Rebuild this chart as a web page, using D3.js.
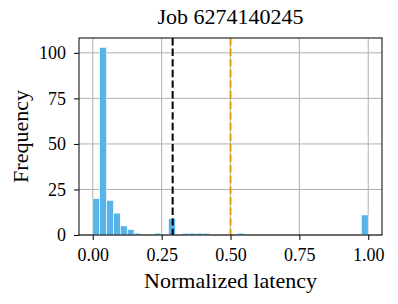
<!DOCTYPE html>
<html>
<head>
<meta charset="utf-8">
<script src="https://cdn.jsdelivr.net/npm/d3@7"></script>
<style>
  html, body { margin: 0; padding: 0; background: #fff; }
</style>
</head>
<body>
<div id="chart"></div>
<script>
// histogram counts, 40 bins of width 0.025 over [0, 1]
const binCounts = [20, 103, 19, 12, 5, 3, 1, 0, 0, 1,
                   0, 9, 0, 1, 1, 1, 1, 0, 0, 0,
                   0, 1, 0, 0, 0, 0, 0, 0, 0, 0,
                   0, 0, 0, 0, 0, 0, 0, 0, 0, 11];
const binWidth = 0.025;
const xTicks = [0, 0.25, 0.5, 0.75, 1.0];
const yTicks = [0, 25, 50, 75, 100];
const meanLine = 0.29;     // black dashed
const thresholdLine = 0.5; // orange dashed
const title = "Job 6274140245";

const FONT = '"Liberation Serif"';

const width = 398, height = 304;
const margin = { top: 38, right: 16, bottom: 69, left: 79 };

const svg = d3.select("#chart").append("svg")
    .attr("width", width)
    .attr("height", height);

const x = d3.scaleLinear()
    .domain([-0.05, 1.05])
    .range([margin.left, width - margin.right]);

const y = d3.scaleLinear()
    .domain([0, d3.max(binCounts) * 1.05])
    .range([height - margin.bottom, margin.top]);

const bins = binCounts.map((c, i) => ({ x0: i * binWidth, x1: (i + 1) * binWidth, count: c }));

// grid (behind bars)
const grid = svg.append("g").attr("stroke", "#b0b0b0").attr("stroke-width", 1);
grid.selectAll("line.gx").data(xTicks).enter().append("line")
    .attr("x1", d => x(d)).attr("x2", d => x(d))
    .attr("y1", margin.top).attr("y2", height - margin.bottom);
grid.selectAll("line.gy").data(yTicks).enter().append("line")
    .attr("x1", margin.left).attr("x2", width - margin.right)
    .attr("y1", d => y(d)).attr("y2", d => y(d));

// bars
svg.append("g").selectAll("rect")
    .data(bins.filter(b => b.count > 0))
    .enter().append("rect")
    .attr("x", d => x(d.x0))
    .attr("width", d => x(d.x1) - x(d.x0))
    .attr("y", d => y(d.count))
    .attr("height", d => y(0) - y(d.count))
    .attr("fill", "#56B4E9")
    .attr("stroke", "#ffffff")
    .attr("stroke-width", 0.6);

// vertical reference lines
svg.append("line")
    .attr("x1", x(meanLine)).attr("x2", x(meanLine))
    .attr("y1", margin.top).attr("y2", height - margin.bottom)
    .attr("stroke", "#000").attr("stroke-width", 2)
    .attr("stroke-dasharray", "7.4,3.2");
svg.append("line")
    .attr("x1", x(thresholdLine)).attr("x2", x(thresholdLine))
    .attr("y1", margin.top).attr("y2", height - margin.bottom)
    .attr("stroke", "#E69F00").attr("stroke-width", 2)
    .attr("stroke-dasharray", "7.4,3.2");

// frame
svg.append("rect")
    .attr("x", margin.left).attr("y", margin.top)
    .attr("width", width - margin.left - margin.right)
    .attr("height", height - margin.top - margin.bottom)
    .attr("fill", "none").attr("stroke", "#000").attr("stroke-width", 1);

// axes
const xAxis = svg.append("g")
    .attr("transform", `translate(0,${height - margin.bottom})`)
    .call(d3.axisBottom(x).tickValues(xTicks).tickFormat(d3.format(".2f"))
        .tickSize(5).tickPadding(8).tickSizeOuter(0));
xAxis.select(".domain").remove();

const yAxis = svg.append("g")
    .attr("transform", `translate(${margin.left},0)`)
    .call(d3.axisLeft(y).tickValues(yTicks).tickFormat(d3.format("d"))
        .tickSize(5).tickPadding(8).tickSizeOuter(0));
yAxis.select(".domain").remove();

xAxis.attr("font-family", FONT).attr("font-size", 18);
yAxis.attr("font-family", FONT).attr("font-size", 18);
svg.selectAll(".tick line").attr("stroke", "#000").attr("stroke-width", 1);
svg.selectAll(".tick text").attr("fill", "#000");

// labels
svg.append("text")
    .attr("x", (margin.left + width - margin.right) / 2)
    .attr("y", 24)
    .attr("text-anchor", "middle")
    .attr("font-family", FONT)
    .attr("font-size", 22)
    .text(title);

svg.append("text")
    .attr("x", (margin.left + width - margin.right) / 2)
    .attr("y", 288)
    .attr("text-anchor", "middle")
    .attr("font-family", FONT)
    .attr("font-size", 22)
    .text("Normalized latency");

svg.append("text")
    .attr("transform", `translate(28,${(margin.top + height - margin.bottom) / 2}) rotate(-90)`)
    .attr("text-anchor", "middle")
    .attr("font-family", FONT)
    .attr("font-size", 22)
    .text("Frequency");
</script>
</body>
</html>
